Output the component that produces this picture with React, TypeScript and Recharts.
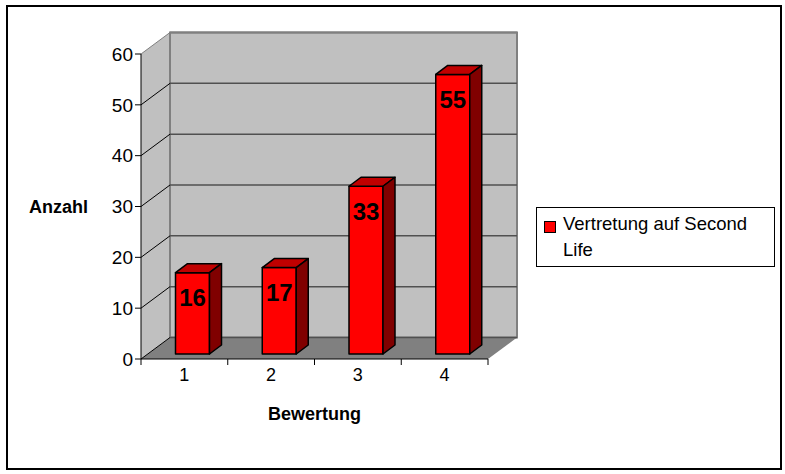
import { BarChart, Bar, XAxis, YAxis, CartesianGrid, Legend, LabelList } from "recharts";

const categories = ["1", "2", "3", "4"];
const counts = [16, 17, 33, 55];
const yTicks = [0, 10, 20, 30, 40, 50, 60];
const seriesName = "Vertretung auf Second Life";

const chartData = categories.map((c, i) => ({ bewertung: c, anzahl: counts[i] }));

const WIDTH = 785;
const HEIGHT = 474;
const FONT = "'Liberation Sans', Arial, sans-serif";

// plot area (front plane of the fake 3d box)
const LEFT = 141;
const RIGHT = 488;
const TOP = 54;
const BOTTOM = 359;
// how far the back wall sits behind the front plane
const DEPTH_X = 29;
const DEPTH_Y = 21.5;
const BAND = (RIGHT - LEFT) / categories.length;

// bar box
const BAR_SHIFT_X = 8.5;
const BAR_SHIFT_Y = 5;
const BAR_DX = 12;
const BAR_DY = 9;

const Box = (props: any) => {
  const { x, y, width, height, fill } = props;
  const l = x + BAR_SHIFT_X;
  const r = l + width;
  const t = y - BAR_SHIFT_Y;
  const b = t + height;
  return (
    <g stroke="#000" strokeWidth={1.5} strokeLinejoin="round">
      <rect x={l} y={t} width={width} height={height} fill={fill} />
      <polygon points={`${l},${t} ${l + BAR_DX},${t - BAR_DY} ${r + BAR_DX},${t - BAR_DY} ${r},${t}`} fill="#c00000" />
      <polygon points={`${r},${t} ${r + BAR_DX},${t - BAR_DY} ${r + BAR_DX},${b - BAR_DY} ${r},${b}`} fill="#800000" />
    </g>
  );
};

const BarValue = (props: any) => {
  const { x, y, width, value } = props;
  return (
    <text
      x={x + BAR_SHIFT_X + width / 2}
      y={y - BAR_SHIFT_Y + 25}
      textAnchor="middle"
      dominantBaseline="central"
      fontFamily={FONT}
      fontSize={24}
      fontWeight="bold"
      fill="#000"
    >
      {value}
    </text>
  );
};

const GridLine = (props: any) => {
  const { x1, x2, y1 } = props;
  const edge = Math.abs(y1 - TOP) < 1;
  return (
    <g>
      <line x1={x1} y1={y1} x2={x1 + DEPTH_X} y2={y1 - DEPTH_Y} stroke={edge ? "#808080" : "#000"} strokeWidth={1} />
      <line x1={x1 + DEPTH_X} y1={y1 - DEPTH_Y} x2={x2 + DEPTH_X} y2={y1 - DEPTH_Y} stroke={edge ? "#808080" : "#505050"} strokeWidth={edge ? 2 : 1.5} />
    </g>
  );
};

const XTick = (props: any) => {
  const { x, y, payload, index } = props;
  const edge = x - BAND / 2;
  return (
    <g>
      <line x1={edge} y1={BOTTOM} x2={edge} y2={BOTTOM + 6} stroke="#000" />
      {index === categories.length - 1 && (
        <line x1={edge + BAND} y1={BOTTOM} x2={edge + BAND} y2={BOTTOM + 6} stroke="#000" />
      )}
      <text x={x} y={y + 14} textAnchor="middle" fontFamily={FONT} fontSize={18} fill="#000">
        {payload.value}
      </text>
    </g>
  );
};

const LegendBox = ({ payload }: any) => (
  <div
    style={{
      width: 239,
      height: 60,
      boxSizing: "border-box",
      border: "1px solid #000",
      background: "#fff",
      position: "relative",
      fontFamily: FONT,
      fontSize: 18.5,
      lineHeight: "26px",
      color: "#000",
      textAlign: "left",
      padding: "3px 0 0 26px",
    }}
  >
    {(payload || []).map((p: any) => (
      <div key={p.value}>
        <span
          style={{
            position: "absolute",
            left: 7,
            top: 13,
            width: 10,
            height: 10,
            background: p.color,
            border: "1.5px solid #000",
          }}
        />
        {p.value}
      </div>
    ))}
  </div>
);

export default function App() {
  return (
    <div style={{ position: "absolute", left: 0, top: 0, width: WIDTH, height: HEIGHT, background: "#fff" }}>
      <svg width={WIDTH} height={HEIGHT} style={{ position: "absolute", left: 0, top: 0 }}>
        <rect x={7} y={6} width={774} height={463} fill="#fff" stroke="#000" strokeWidth={2} />
        <polygon
          points={`${LEFT},${TOP} ${LEFT + DEPTH_X},${TOP - DEPTH_Y} ${LEFT + DEPTH_X},${BOTTOM - DEPTH_Y} ${LEFT},${BOTTOM}`}
          fill="#c0c0c0"
        />
        <rect
          x={LEFT + DEPTH_X}
          y={TOP - DEPTH_Y}
          width={RIGHT - LEFT}
          height={BOTTOM - TOP}
          fill="#c0c0c0"
          stroke="#808080"
          strokeWidth={2}
        />
        <polygon
          points={`${LEFT},${BOTTOM} ${LEFT + DEPTH_X},${BOTTOM - DEPTH_Y} ${RIGHT + DEPTH_X},${BOTTOM - DEPTH_Y} ${RIGHT},${BOTTOM}`}
          fill="#808080"
        />
      </svg>
      <div style={{ position: "absolute", left: 0, top: 0 }}>
        <BarChart
          width={WIDTH}
          height={HEIGHT}
          data={chartData}
          margin={{ top: TOP, left: LEFT - 60, right: WIDTH - RIGHT, bottom: HEIGHT - BOTTOM - 50 }}
        >
          <CartesianGrid vertical={false} horizontal={GridLine as any} />
          <XAxis
            dataKey="bewertung"
            height={50}
            axisLine={{ stroke: "#000" }}
            tickLine={false}
            interval={0}
            tick={XTick}
            label={{
              value: "Bewertung",
              position: "insideBottom",
              offset: -11,
              fontFamily: FONT,
              fontSize: 18,
              fontWeight: "bold",
              fill: "#000",
            }}
          />
          <YAxis
            width={60}
            domain={[0, 60]}
            ticks={yTicks}
            interval={0}
            axisLine={{ stroke: "#000" }}
            tickLine={{ stroke: "#000" }}
            tickSize={6}
            tick={{ fontFamily: FONT, fontSize: 19, fill: "#000" }}
            label={{
              value: "Anzahl",
              position: "insideLeft",
              offset: -52,
              fontFamily: FONT,
              fontSize: 18,
              fontWeight: "bold",
              fill: "#000",
            }}
          />
          <Legend
            layout="horizontal"
            verticalAlign="middle"
            align="center"
            content={LegendBox as any}
            wrapperStyle={{ position: "absolute", left: 536, top: 207, width: 239, height: 60 }}
          />
          <Bar dataKey="anzahl" name={seriesName} fill="#ff0000" barSize={34} shape={Box} isAnimationActive={false}>
            <LabelList dataKey="anzahl" content={BarValue as any} />
          </Bar>
        </BarChart>
      </div>
    </div>
  );
}
